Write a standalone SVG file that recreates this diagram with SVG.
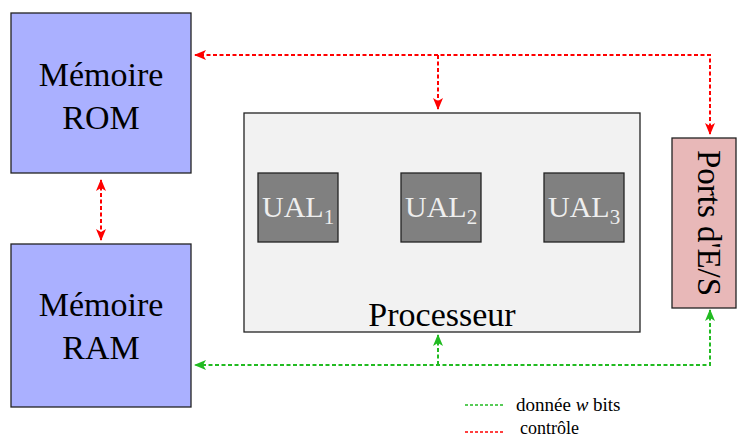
<svg xmlns="http://www.w3.org/2000/svg" width="738" height="439" viewBox="0 0 738 439">
<style>
.box{stroke:#222;stroke-width:1.3}
.t{font-family:"Liberation Serif",serif;fill:#000}
.ual{fill:#808080;stroke:#222;stroke-width:1.3}
.ut{font-family:"Liberation Serif",serif;fill:#eeeeee;font-size:30px}
.red{stroke:#ff0000;stroke-width:2;stroke-dasharray:4 2.5;fill:none}
.grn{stroke:#22bb22;stroke-width:2;stroke-dasharray:4 2.5;fill:none}
.lr{stroke:#ff0000;stroke-width:1.3;stroke-dasharray:3 2;fill:none}
.lg{stroke:#22bb22;stroke-width:1.3;stroke-dasharray:3 2;fill:none}
</style>
<defs>
<marker id="ar" viewBox="0 0 12 10" refX="11" refY="5" markerWidth="12" markerHeight="10" markerUnits="userSpaceOnUse" orient="auto-start-reverse">
<path d="M0,0 L12,5 L0,10 L3,5 Z" fill="#ff0000"/>
</marker>
<marker id="ag" viewBox="0 0 12 10" refX="11" refY="5" markerWidth="12" markerHeight="10" markerUnits="userSpaceOnUse" orient="auto-start-reverse">
<path d="M0,0 L12,5 L0,10 L3,5 Z" fill="#22bb22"/>
</marker>
</defs>
<rect width="738" height="439" fill="#ffffff"/>
<g id="rom">
<rect class="box" x="11" y="13" width="180" height="160" fill="#aab0ff"/>
<text class="t" x="101" y="86" font-size="34" text-anchor="middle">Mémoire</text>
<text class="t" x="101" y="129" font-size="34" text-anchor="middle">ROM</text>
</g>
<g id="ram">
<rect class="box" x="11" y="244" width="180" height="163" fill="#aab0ff"/>
<text class="t" x="101" y="316" font-size="34" text-anchor="middle">Mémoire</text>
<text class="t" x="101" y="359" font-size="34" text-anchor="middle">RAM</text>
</g>
<g id="processeur">
<rect class="box" x="244" y="113" width="396" height="219" fill="#f2f2f2"/>
<text class="t" x="442" y="326" font-size="34" text-anchor="middle">Processeur</text>
</g>
<g id="ual1">
<rect class="ual" x="258" y="173" width="80" height="69"/>
<text class="ut" x="262" y="217">UAL<tspan font-size="21" dy="7">1</tspan></text>
</g>
<g id="ual2">
<rect class="ual" x="401" y="173" width="80" height="69"/>
<text class="ut" x="405" y="217">UAL<tspan font-size="21" dy="7">2</tspan></text>
</g>
<g id="ual3">
<rect class="ual" x="544" y="173" width="80" height="69"/>
<text class="ut" x="548" y="217">UAL<tspan font-size="21" dy="7">3</tspan></text>
</g>
<g id="ports">
<rect class="box" x="672" y="138" width="64" height="170" fill="#e8b8b8"/>
<text class="t" x="0" y="0" font-size="33" text-anchor="middle" transform="translate(698,223) rotate(90)">Ports d'E/S</text>
</g>
<g id="connecteurs">
<path class="red" d="M710,134 L710,55 L195,55" marker-start="url(#ar)" marker-end="url(#ar)"/>
<path class="red" d="M438,55 L438,109" marker-end="url(#ar)"/>
<path class="red" d="M101,180 L101,240" marker-start="url(#ar)" marker-end="url(#ar)"/>
<path class="grn" d="M710,310 L710,365 L195,365" marker-start="url(#ag)" marker-end="url(#ag)"/>
<path class="grn" d="M438,365 L438,335" marker-end="url(#ag)"/>
</g>
<g id="legende">
<line class="lg" x1="465" y1="405" x2="505" y2="405"/>
<text class="t" x="516" y="411" font-size="19">donnée <tspan font-style="italic">w</tspan> bits</text>
<line class="lr" x1="465" y1="432" x2="505" y2="432"/>
<text class="t" x="520" y="434" font-size="18">contrôle</text>
</g>
</svg>
